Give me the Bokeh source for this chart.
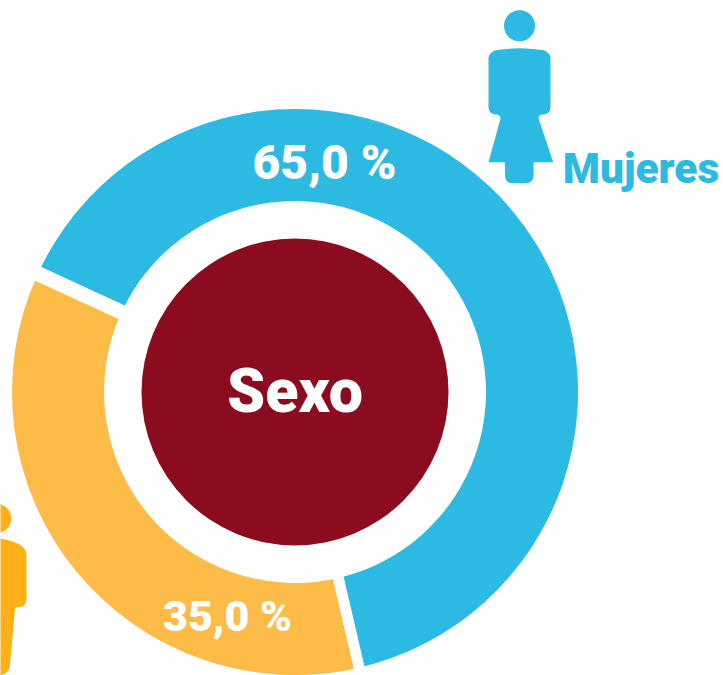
import numpy as np
from bokeh.plotting import figure
from bokeh.models import Range1d
from bokeh.core.properties import value
from bokeh.embed import file_html
from bokeh.resources import INLINE

categories = ["Mujeres", "Hombres"]
shares = [65.0, 35.0]          # printed on the chart
arc_shares = [64.5, 35.5]      # as the ring is actually drawn
centre_label = "Sexo"
START_CW = -65.3  # clockwise from 12 o'clock, where the first slice begins

W, H = 723, 675
BLUE, ORANGE, ICON_ORANGE, RED = "#2CB9E2", "#FDBC47", "#FDB018", "#8A0C1E"
CX, CY = 294.5, 391.5
R_OUT, R_IN, R_DISC = 283, 191, 153.5
FONT = value("Roboto Black")

def Y(py):
    return H - np.asarray(py, dtype=float)

p = figure(width=W, height=H, output_backend="svg", toolbar_location=None,
           x_range=Range1d(0, W), y_range=Range1d(0, H), min_border=0)
p.axis.visible = False
p.grid.visible = False
p.outline_line_color = None
p.background_fill_color = "white"

# ring, from the shares
sweeps = np.array(arc_shares) / sum(arc_shares) * 360
edges = START_CW + np.concatenate([[0], np.cumsum(sweeps)])
for i, col in enumerate([BLUE, ORANGE]):
    p.annular_wedge(CX, Y(CY), inner_radius=R_IN, outer_radius=R_OUT,
                    start_angle=np.radians(90 - edges[i + 1]),
                    end_angle=np.radians(90 - edges[i]),
                    fill_color=col, line_color=None)

# white gaps between slices
for cw, lw in zip(edges[:2], [15, 11]):
    t = np.radians(90 - cw)
    p.segment(CX + (R_IN - 8) * np.cos(t), Y(CY) + (R_IN - 8) * np.sin(t),
              CX + (R_OUT + 8) * np.cos(t), Y(CY) + (R_OUT + 8) * np.sin(t),
              line_color="white", line_width=lw)

p.circle(CX, Y(CY), radius=R_DISC, fill_color=RED, line_color=None)

def label(x, py, s, size, col):
    p.text([x], [Y(py)], text=[s], text_font=FONT, text_font_style="bold",
           text_font_size=f"{size}px", text_color=col,
           text_align="center", text_baseline="middle")

def pct(v):
    return f"{v:.1f} %".replace(".", ",")

label(294.5, 390, centre_label, 61, "white")
label(324, 162, pct(shares[0]), 48, "white")
label(227, 615, pct(shares[1]), 43, "white")
label(640.5, 168, categories[0], 42.5, BLUE)

def outline(points):
    """Polyline with quadratic rounding: entries (x, y) corners, (x, y, 1) controls."""
    xs, ys = [], []
    for i, pt in enumerate(points):
        if len(pt) == 3:
            a, b = points[i - 1], points[(i + 1) % len(points)]
            for t in np.linspace(0, 1, 9)[1:-1]:
                xs.append((1 - t) ** 2 * a[0] + 2 * t * (1 - t) * pt[0] + t * t * b[0])
                ys.append((1 - t) ** 2 * a[1] + 2 * t * (1 - t) * pt[1] + t * t * b[1])
        else:
            xs.append(pt[0]); ys.append(pt[1])
    return xs, Y(ys)

# woman icon
p.circle(519, Y(25.3), radius=15.5, fill_color=BLUE, line_color=None)
wx, wy = outline([
    (488, 58), (488, 53, 1), (494, 50), (519, 45.7, 1), (544, 50), (550, 53, 1), (550, 58),
    (550, 106), (550, 114, 1), (541, 114), (538, 115, 1), (538, 118),
    (552.7, 161.7), (533, 161.7), (533, 174), (533, 182.7, 1), (525, 182.7),
    (512, 182.7), (504.5, 182.7, 1), (504.5, 174),
    (504.3, 161.7), (488, 161.7), (500, 118), (500, 115, 1), (497, 114), (488, 114, 1), (488, 106),
])
p.patch(wx, wy, fill_color=BLUE, line_color=None)

# man icon, cut by the left edge
p.circle(-4, Y(518), radius=14.7, fill_color=ICON_ORANGE, line_color=None)
mx, my = outline([
    (-34, 555), (-34, 541, 1), (-4, 537.7), (26, 541, 1), (26, 555),
    (26, 598), (26, 606.7, 1), (17, 606.7), (14.5, 606.7, 1), (14.3, 610),
    (9.5, 664), (9, 675, 1), (-4, 675), (-34, 606),
])
p.patch(mx, my, fill_color=ICON_ORANGE, line_color=None)

open("out.html", "w").write(file_html(p, INLINE))
